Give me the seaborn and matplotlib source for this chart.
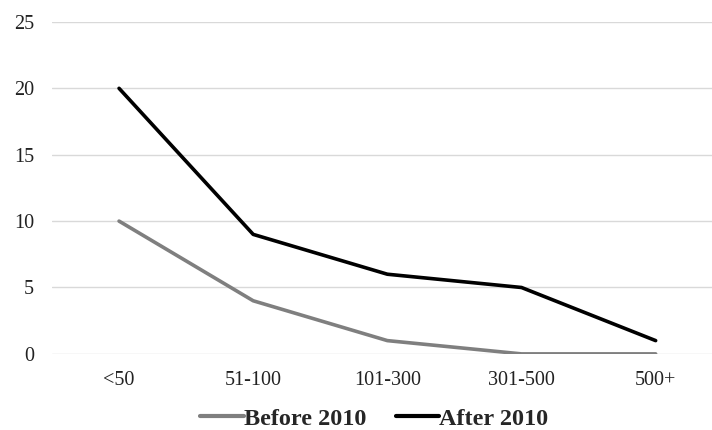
import pandas as pd
import matplotlib.pyplot as plt
import seaborn as sns

categories = ['<50', '51-100', '101-300', '301-500', '500+']
before_2010 = [10, 4, 1, 0, 0]
after_2010 = [20, 9, 6, 5, 1]

df = pd.DataFrame({'Size': categories * 2,
                   'Count': before_2010 + after_2010,
                   'Period': ['Before 2010'] * 5 + ['After 2010'] * 5})

sns.set_style("white")
plt.rcParams['font.family'] = ['Liberation Serif', 'DejaVu Serif']

fig = plt.figure(figsize=(7.12, 4.30), dpi=100)
ax = fig.add_axes([0.073, 0.177, 0.927, 0.772])

sns.lineplot(data=df, x='Size', y='Count', hue='Period', sort=False,
             palette={'Before 2010': '#7f7f7f', 'After 2010': '#000000'},
             linewidth=2.6, ax=ax, legend=False)

ax.set_ylim(0, 25)
ax.set_xlim(-0.5, 4.42)
ax.set_yticks(range(0, 26, 5))
ax.yaxis.grid(True, color='#d9d9d9', linewidth=1)
ax.set_axisbelow(True)
for s in ax.spines.values():
    s.set_visible(False)
ax.tick_params(axis='both', length=0, labelsize=14.5, colors='#222222')
ax.tick_params(axis='x', pad=12)
ax.tick_params(axis='y', pad=13)
ax.set_xlabel('')
ax.set_ylabel('')

handles = [plt.Line2D([], [], color='#7f7f7f', linewidth=3),
           plt.Line2D([], [], color='#000000', linewidth=3)]
fig.legend(handles, ['Before 2010', 'After 2010'], loc='center',
           bbox_to_anchor=(0.526, 0.026), ncol=2, frameon=False,
           handlelength=1.8, handletextpad=0.0, columnspacing=1.2,
           borderpad=0, prop={'weight': 'bold', 'size': 17.5})

fig.savefig('out.png', dpi=100)
